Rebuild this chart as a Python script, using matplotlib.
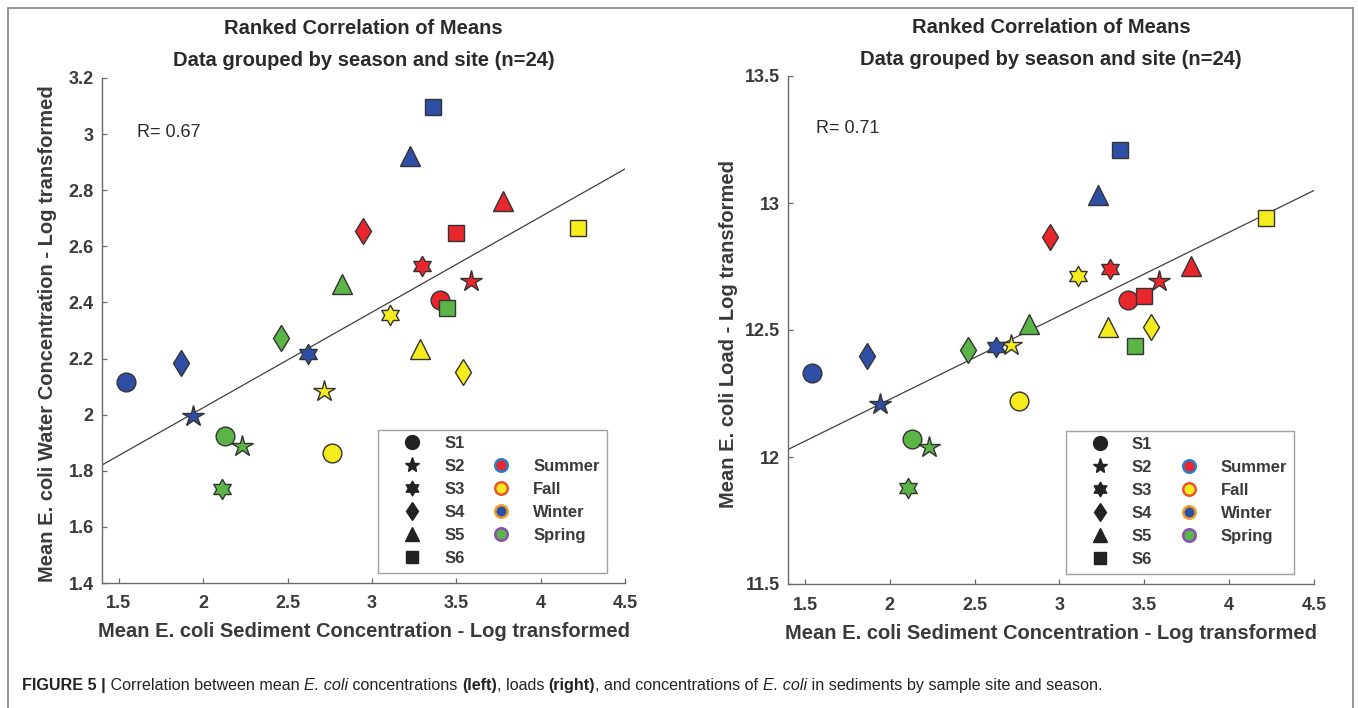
import numpy as np
import matplotlib
matplotlib.use("Agg")
import matplotlib.pyplot as plt
from matplotlib.lines import Line2D
from matplotlib.patches import Rectangle
from matplotlib.path import Path

plt.rcParams["font.family"] = ["Liberation Sans", "DejaVu Sans"]

# ---------------------------------------------------------------------------
# Data: one entry per site/season mean, n=24
# ---------------------------------------------------------------------------
sites   = ["S1", "S1", "S1", "S1",
           "S2", "S2", "S2", "S2",
           "S3", "S3", "S3", "S3",
           "S4", "S4", "S4", "S4",
           "S5", "S5", "S5", "S5",
           "S6", "S6", "S6", "S6"]
seasons = ["Winter", "Spring", "Fall", "Summer",
           "Winter", "Spring", "Fall", "Summer",
           "Spring", "Winter", "Fall", "Summer",
           "Winter", "Spring", "Summer", "Fall",
           "Spring", "Winter", "Fall", "Summer",
           "Winter", "Spring", "Summer", "Fall"]
sediment = [1.543, 2.130, 2.763, 3.406,
            1.940, 2.229, 2.714, 3.588,
            2.110, 2.623, 3.110, 3.296,
            1.866, 2.462, 2.945, 3.539,
            2.820, 3.225, 3.287, 3.777,
            3.359, 3.446, 3.500, 4.220]
water    = [2.115, 1.924, 1.862, 2.410,
            1.994, 1.890, 2.083, 2.478,
            1.735, 2.218, 2.354, 2.531,
            2.183, 2.275, 2.653, 2.153,
            2.466, 2.922, 2.233, 2.762,
            3.098, 2.381, 2.647, 2.665]
load     = [12.330, 12.071, 12.222, 12.620,
            12.209, 12.038, 12.441, 12.692,
            11.878, 12.435, 12.713, 12.742,
            12.398, 12.421, 12.866, 12.513,
            12.522, 13.030, 12.513, 12.751,
            13.207, 12.437, 12.635, 12.941]

# fitted lines as drawn in the figure (y = slope * x + intercept)
fit_water = (0.3404, 1.344)
fit_load  = (0.329, 11.569)
r_water = "R= 0.67"
r_load  = "R= 0.71"

site_order   = ["S1", "S2", "S3", "S4", "S5", "S6"]
season_order = ["Summer", "Fall", "Winter", "Spring"]

# ---------------------------------------------------------------------------
# Styles
# ---------------------------------------------------------------------------
hexagram = Path.unit_regular_star(6, 0.577)
site_marker = {"S1": "o", "S2": "*", "S3": hexagram, "S4": "d", "S5": "^", "S6": "s"}
site_size   = {"S1": 13.5, "S2": 16, "S3": 14.5, "S4": 13, "S5": 14.5, "S6": 11.8}
legend_size = {"S1": 10, "S2": 11, "S3": 10.5, "S4": 9.5, "S5": 10.5, "S6": 8}
season_color = {"Summer": "#e8262c", "Fall": "#f6eb1c",
                "Winter": "#2f4fa6", "Spring": "#5bb546"}
season_edge  = {"Summer": "#2a7fc8", "Fall": "#e8562a",
                "Winter": "#f0a02a", "Spring": "#8a4fb0"}

AX_COL  = "#6a6a6a"
TXT_COL = "#3a3a3a"

W, H = 1358, 708
fig = plt.figure(figsize=(W / 100, H / 100), dpi=100)
ax_l = fig.add_axes([102 / W, 1 - 583 / H, 523 / W, 505 / H])
ax_r = fig.add_axes([788 / W, 1 - 584 / H, 526 / W, 508 / H])


def draw_panel(ax, yvals, fit, rtext, ylim, yticks, yticklabels, ylabel, ylab_x, r_pos, title_y):
    x = np.array(sediment)
    y = np.array(yvals)
    for xi, yi, site, season in zip(x, y, sites, seasons):
        ax.plot(xi, yi, linestyle="none", marker=site_marker[site],
                markersize=site_size[site], markerfacecolor=season_color[season],
                markeredgecolor="#333333", markeredgewidth=1.0, zorder=3)

    xl = np.array([1.4, 4.5])
    ax.plot(xl, fit[0] * xl + fit[1], color="#404040", linewidth=0.9, zorder=2)

    ax.set_xlim(1.4, 4.5)
    ax.set_ylim(*ylim)
    ax.set_xticks([1.5, 2, 2.5, 3, 3.5, 4, 4.5])
    ax.set_xticklabels(["1.5", "2", "2.5", "3", "3.5", "4", "4.5"])
    ax.set_yticks(yticks)
    ax.set_yticklabels(yticklabels)

    for side in ["top", "right"]:
        ax.spines[side].set_visible(False)
    for side in ["left", "bottom"]:
        ax.spines[side].set_color(AX_COL)
        ax.spines[side].set_linewidth(1.0)
    ax.tick_params(direction="in", length=3.6, width=0.9, color=AX_COL,
                   labelsize=13, labelcolor=TXT_COL)
    ax.tick_params(axis="x", pad=9)
    ax.tick_params(axis="y", pad=6)
    for lab in ax.get_xticklabels() + ax.get_yticklabels():
        lab.set_fontweight("bold")

    ax.set_xlabel("Mean E. coli Sediment Concentration - Log transformed",
                  fontsize=14.5, fontweight="bold", color=TXT_COL)
    ax.xaxis.set_label_coords(0.5, -0.097)
    ax.xaxis.label.set_va("center")
    ax.set_ylabel(ylabel, fontsize=14.5, fontweight="bold", color=TXT_COL)
    ax.yaxis.set_label_coords(ylab_x, 0.493)
    ax.yaxis.label.set_va("center")

    ax.text(0.5, title_y[0], "Ranked Correlation of Means", transform=ax.transAxes,
            ha="center", va="center", fontsize=14.5, fontweight="bold", color="#2a2a2a")
    ax.text(0.5, title_y[1], "Data grouped by season and site (n=24)", transform=ax.transAxes,
            ha="center", va="center", fontsize=14.5, fontweight="bold", color="#2a2a2a")
    ax.text(r_pos[0], r_pos[1], rtext, transform=ax.transAxes, ha="left", va="center",
            fontsize=13, color="#2a2a2a")

    # legend: sites (shapes) in column 1, seasons (colours) in column 2
    blank = Line2D([], [], linestyle="none")
    col1 = [Line2D([], [], linestyle="none", marker=site_marker[s], markersize=legend_size[s],
                   markerfacecolor="#222222", markeredgecolor="#222222") for s in site_order]
    col2 = [Line2D([], [], linestyle="none", marker="o", markersize=9,
                   markerfacecolor=season_color[s], markeredgecolor=season_edge[s],
                   markeredgewidth=1.8) for s in season_order]
    handles = col1 + [blank] + col2 + [blank]
    labels = site_order + [""] + season_order + [""]
    leg = ax.legend(handles, labels, ncol=2, loc="lower left",
                    bbox_to_anchor=(0.528, 0.02), borderaxespad=0,
                    prop={"weight": "bold", "size": 12}, frameon=True, fancybox=False,
                    borderpad=0.4, handlelength=3.3, handletextpad=0.27,
                    columnspacing=0.55, labelspacing=0.48, edgecolor="#8a8a8a")
    leg.get_frame().set_linewidth(1.0)
    for t in leg.get_texts():
        t.set_color(TXT_COL)


draw_panel(ax_l, water, fit_water, r_water, (1.4, 3.2),
           [1.4, 1.6, 1.8, 2, 2.2, 2.4, 2.6, 2.8, 3, 3.2],
           ["1.4", "1.6", "1.8", "2", "2.2", "2.4", "2.6", "2.8", "3", "3.2"],
           "Mean E. coli Water Concentration - Log transformed", -0.105, (0.067, 0.893),
           (1.099, 1.0356))
draw_panel(ax_r, load, fit_load, r_load, (11.5, 13.5),
           [11.5, 12, 12.5, 13, 13.5],
           ["11.5", "12", "12.5", "13", "13.5"],
           "Mean E. coli Load - Log transformed", -0.114, (0.053, 0.896),
           (1.0945, 1.0315))

# outer frame of the figure panel
fig.patches.append(Rectangle((8 / W, -0.05), (1353 - 8) / W, 1 - 8 / H + 0.05,
                             transform=fig.transFigure, fill=False,
                             edgecolor="#8c8c8c", linewidth=1.3))

# caption with mixed styles: pieces placed one after another on a shared baseline
caption = [("FIGURE 5 |", "bold", "normal"),
           (" Correlation between mean ", "normal", "normal"),
           ("E. coli", "normal", "italic"),
           (" concentrations ", "normal", "normal"),
           ("(left)", "bold", "normal"),
           (", loads ", "normal", "normal"),
           ("(right)", "bold", "normal"),
           (", and concentrations of ", "normal", "normal"),
           ("E. coli", "normal", "italic"),
           (" in sediments by sample site and season.", "normal", "normal")]
renderer = fig.canvas.get_renderer()
x_cur = 22 / W
for text, weight, style in caption:
    t = fig.text(x_cur, 1 - 690 / H, text, ha="left", va="baseline",
                 fontsize=11.6, fontweight=weight, fontstyle=style, color="#222222")
    bb = t.get_window_extent(renderer)
    x_cur = bb.x1 / W

fig.savefig("out.png", dpi=100)
